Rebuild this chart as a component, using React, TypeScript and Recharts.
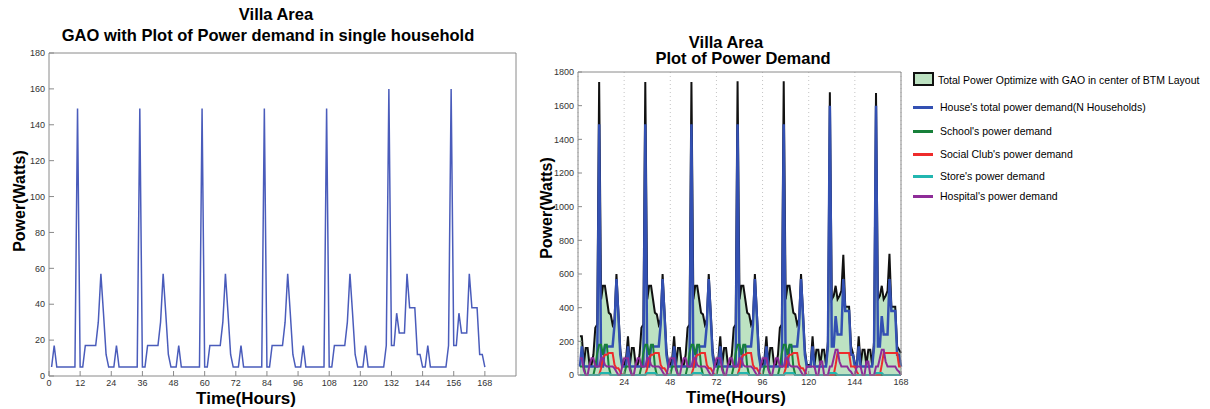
import React from 'react';
import { LineChart, Line, ComposedChart, Area, XAxis, YAxis, CartesianGrid } from 'recharts';

// hour index of each sample (1..168, one week)
const hours = Array.from({ length: 168 }, (_, i) => i + 1);

// single household demand (W), one row per day
const singleHouse = [
  [5, 17, 5, 5, 5, 5, 5, 5, 5, 5, 149, 5, 5, 17, 17, 17, 17, 17, 30, 57, 35, 12, 5, 5],
  [5, 17, 5, 5, 5, 5, 5, 5, 5, 5, 149, 5, 5, 17, 17, 17, 17, 17, 30, 57, 35, 12, 5, 5],
  [5, 17, 5, 5, 5, 5, 5, 5, 5, 5, 149, 5, 5, 17, 17, 17, 17, 17, 30, 57, 35, 12, 5, 5],
  [5, 17, 5, 5, 5, 5, 5, 5, 5, 5, 149, 5, 5, 17, 17, 17, 17, 17, 30, 57, 35, 12, 5, 5],
  [5, 17, 5, 5, 5, 5, 5, 5, 5, 5, 149, 5, 5, 17, 17, 17, 17, 17, 30, 57, 35, 12, 5, 5],
  [5, 17, 5, 5, 5, 5, 5, 5, 5, 17, 160, 17, 17, 35, 24, 24, 24, 57, 38, 38, 38, 12, 12, 5],
  [5, 17, 5, 5, 5, 5, 5, 5, 5, 17, 160, 17, 17, 35, 24, 24, 24, 57, 38, 38, 38, 12, 12, 5],
].flat();

// total optimized power (W)
const totalPower = [
  [230, 230, 60, 160, 160, 60, 60, 120, 280, 300, 1740, 450, 530, 530, 450, 370, 360, 300, 330, 600, 380, 150, 60, 60],
  [100, 230, 60, 160, 160, 60, 60, 120, 280, 300, 1740, 450, 530, 530, 450, 370, 360, 300, 330, 600, 380, 150, 60, 60],
  [100, 230, 60, 160, 160, 60, 60, 120, 280, 300, 1740, 450, 530, 530, 450, 370, 360, 300, 330, 600, 380, 150, 60, 60],
  [100, 230, 60, 160, 160, 60, 60, 120, 280, 300, 1745, 450, 530, 530, 450, 370, 360, 300, 330, 600, 380, 150, 60, 60],
  [100, 230, 60, 160, 160, 60, 60, 120, 280, 300, 1745, 450, 530, 530, 450, 370, 360, 300, 330, 600, 380, 150, 60, 60],
  [60, 230, 60, 150, 150, 60, 150, 150, 60, 200, 1680, 450, 470, 530, 450, 470, 500, 714, 405, 405, 405, 170, 130, 70],
  [60, 230, 60, 150, 150, 60, 150, 150, 60, 200, 1675, 450, 470, 530, 450, 470, 500, 720, 405, 405, 405, 170, 150, 130],
].flat();

// house's total power demand, N households (W)
const houseDemand = [
  [50, 170, 50, 50, 50, 50, 50, 50, 50, 50, 1490, 50, 50, 170, 170, 170, 170, 170, 300, 570, 350, 120, 50, 50],
  [50, 170, 50, 50, 50, 50, 50, 50, 50, 50, 1490, 50, 50, 170, 170, 170, 170, 170, 300, 570, 350, 120, 50, 50],
  [50, 170, 50, 50, 50, 50, 50, 50, 50, 50, 1490, 50, 50, 170, 170, 170, 170, 170, 300, 570, 350, 120, 50, 50],
  [50, 170, 50, 50, 50, 50, 50, 50, 50, 50, 1490, 50, 50, 170, 170, 170, 170, 170, 300, 570, 350, 120, 50, 50],
  [50, 170, 50, 50, 50, 50, 50, 50, 50, 50, 1490, 50, 50, 170, 170, 170, 170, 170, 300, 570, 350, 120, 50, 50],
  [50, 170, 50, 50, 50, 50, 50, 50, 50, 170, 1600, 170, 170, 350, 240, 240, 240, 570, 380, 380, 380, 120, 120, 50],
  [50, 170, 50, 50, 50, 50, 50, 50, 50, 170, 1600, 170, 170, 350, 240, 240, 240, 570, 380, 380, 380, 120, 120, 50],
].flat();

const schoolDemand = [
  [50, 50, 50, 0, 0, 0, 0, 0, 50, 130, 180, 180, 120, 180, 180, 50, 0, 0, 0, 0, 0, 0, 0, 0],
  [50, 50, 50, 0, 0, 0, 0, 0, 50, 130, 180, 180, 120, 180, 180, 50, 0, 0, 0, 0, 0, 0, 0, 0],
  [50, 50, 50, 0, 0, 0, 0, 0, 50, 130, 180, 180, 120, 180, 180, 50, 0, 0, 0, 0, 0, 0, 0, 0],
  [50, 50, 50, 0, 0, 0, 0, 0, 50, 130, 180, 180, 120, 180, 180, 50, 0, 0, 0, 0, 0, 0, 0, 0],
  [50, 50, 50, 0, 0, 0, 0, 0, 50, 130, 180, 180, 120, 180, 180, 50, 0, 0, 0, 0, 0, 0, 0, 0],
  [0, 0, 0, 0, 0, 0, 0, 0, 0, 0, 0, 0, 0, 0, 0, 0, 0, 0, 0, 0, 0, 0, 0, 0],
  [0, 0, 0, 0, 0, 0, 0, 0, 0, 0, 0, 0, 0, 0, 0, 0, 0, 0, 0, 0, 0, 0, 0, 0],
].flat();

const clubDemand = [
  [0, 0, 0, 0, 0, 0, 0, 0, 0, 0, 0, 40, 100, 120, 120, 130, 130, 130, 60, 40, 40, 20, 0, 0],
  [0, 0, 0, 0, 0, 0, 0, 0, 0, 0, 0, 40, 100, 120, 120, 130, 130, 130, 60, 40, 40, 20, 0, 0],
  [0, 0, 0, 0, 0, 0, 0, 0, 0, 0, 0, 40, 100, 120, 120, 130, 130, 130, 60, 40, 40, 20, 0, 0],
  [0, 0, 0, 0, 0, 0, 0, 0, 0, 0, 0, 40, 100, 120, 120, 130, 130, 130, 60, 40, 40, 20, 0, 0],
  [0, 0, 0, 0, 0, 0, 0, 0, 0, 0, 0, 40, 100, 120, 120, 130, 130, 130, 60, 40, 40, 20, 0, 0],
  [0, 0, 0, 0, 0, 0, 0, 0, 0, 0, 0, 0, 0, 60, 130, 130, 130, 130, 130, 130, 130, 50, 50, 50],
  [20, 0, 0, 0, 0, 0, 0, 0, 0, 0, 0, 0, 0, 60, 130, 130, 130, 130, 130, 130, 130, 130, 50, 50],
].flat();

const storeDemand = [
  [0, 0, 0, 0, 0, 0, 0, 0, 0, 0, 0, 12, 12, 12, 12, 12, 0, 0, 0, 0, 0, 0, 0, 0],
  [0, 0, 0, 0, 0, 0, 0, 0, 0, 0, 0, 12, 12, 12, 12, 12, 0, 0, 0, 0, 0, 0, 0, 0],
  [0, 0, 0, 0, 0, 0, 0, 0, 0, 0, 0, 12, 12, 12, 12, 12, 0, 0, 0, 0, 0, 0, 0, 0],
  [0, 0, 0, 0, 0, 0, 0, 0, 0, 0, 0, 12, 12, 12, 12, 12, 0, 0, 0, 0, 0, 0, 0, 0],
  [0, 0, 0, 0, 0, 0, 0, 0, 0, 0, 0, 12, 12, 12, 12, 12, 0, 0, 0, 0, 0, 0, 0, 0],
  [0, 0, 0, 0, 0, 0, 0, 0, 0, 0, 12, 12, 12, 12, 0, 0, 0, 0, 0, 0, 0, 0, 0, 0],
  [0, 0, 0, 0, 0, 0, 0, 0, 0, 0, 12, 12, 12, 12, 0, 0, 0, 0, 0, 0, 0, 0, 0, 0],
].flat();

const hospitalDemand = [
  [100, 100, 30, 0, 0, 60, 100, 100, 50, 50, 50, 100, 100, 60, 50, 50, 50, 50, 40, 20, 0, 0, 50, 100],
  [100, 100, 30, 0, 0, 60, 100, 100, 50, 50, 50, 100, 100, 60, 50, 50, 50, 50, 40, 20, 0, 0, 50, 100],
  [100, 100, 30, 0, 0, 60, 100, 100, 50, 50, 50, 100, 100, 60, 50, 50, 50, 50, 40, 20, 0, 0, 50, 100],
  [100, 100, 30, 0, 0, 60, 100, 100, 50, 50, 50, 100, 100, 60, 50, 50, 50, 50, 40, 20, 0, 0, 50, 100],
  [100, 100, 30, 0, 0, 60, 100, 100, 50, 50, 50, 100, 100, 60, 50, 50, 50, 50, 40, 20, 0, 0, 50, 50],
  [50, 50, 50, 0, 0, 80, 80, 0, 0, 0, 50, 50, 100, 150, 150, 80, 50, 50, 50, 50, 30, 20, 0, 0],
  [50, 50, 50, 0, 0, 80, 80, 0, 0, 0, 50, 50, 100, 150, 150, 80, 50, 50, 50, 50, 50, 30, 20, 0],
].flat();

const leftXTicks = [0, 12, 24, 36, 48, 60, 72, 84, 96, 108, 120, 132, 144, 156, 168];
const leftYTicks = [0, 20, 40, 60, 80, 100, 120, 140, 160, 180];
const rightXTicks = [24, 48, 72, 96, 120, 144, 168];
const rightYTicks = [0, 200, 400, 600, 800, 1000, 1200, 1400, 1600, 1800];

const leftData = hours.map((h, i) => ({ hour: h, power: singleHouse[i] }));
const rightData = hours.map((h, i) => ({
  hour: h,
  total: totalPower[i],
  house: houseDemand[i],
  school: schoolDemand[i],
  club: clubDemand[i],
  store: storeDemand[i],
  hospital: hospitalDemand[i],
}));

const FONT = '"Liberation Sans", Arial, Helvetica, sans-serif';
const AXIS = '#8a8a8a';
const tickStyle = { fontSize: 9, fill: '#333', fontFamily: FONT };

const COLORS = {
  fill: '#bde2c2',
  total: '#111111',
  house: '#3350b2',
  school: '#17803a',
  club: '#ee2b2b',
  store: '#22b6b0',
  hospital: '#8e2c98',
};

const legendRows = [
  { label: "House's total power demand(N Households)", color: COLORS.house, y: 107 },
  { label: "School's power demand", color: COLORS.school, y: 131 },
  { label: "Social Club's power demand", color: COLORS.club, y: 154 },
  { label: "Store's power demand", color: COLORS.store, y: 176 },
  { label: "Hospital's power demand", color: COLORS.hospital, y: 196 },
];

const Txt: React.FC<{ x: number; y: number; size: number; bold?: boolean; rotate?: boolean; children: React.ReactNode }> = ({ x, y, size, bold, rotate, children }) => (
  <div
    style={{
      position: 'absolute',
      left: x,
      top: y,
      transform: `translate(-50%, -50%)${rotate ? ' rotate(-90deg)' : ''}`,
      fontSize: size,
      fontWeight: bold ? 'bold' : 'normal',
      fontFamily: FONT,
      whiteSpace: 'nowrap',
      color: '#000',
      lineHeight: 1,
    }}
  >
    {children}
  </div>
);

export default function App() {
  return (
    <div style={{ position: 'absolute', left: 0, top: 0, width: 1210, height: 409, background: '#fff', overflow: 'hidden' }}>
      {/* left panel: single household */}
      <div style={{ position: 'absolute', left: 0, top: 0 }}>
        <LineChart width={530} height={409} data={leftData} margin={{ top: 52, right: 13, bottom: 13, left: 19 }}>
          <XAxis dataKey="hour" type="number" domain={[0, 180]} ticks={leftXTicks} interval={0} height={20}
            tickSize={-5} tickMargin={9} stroke={AXIS} tick={tickStyle} />
          <XAxis xAxisId="top" orientation="top" dataKey="hour" type="number" domain={[0, 180]} ticks={leftXTicks}
            interval={0} height={1} tickSize={-5} tick={false} stroke={AXIS} />
          <YAxis type="number" domain={[0, 180]} ticks={leftYTicks} interval={0} width={30}
            tickSize={-5} tickMargin={9} stroke={AXIS} tick={tickStyle} />
          <YAxis yAxisId="right" orientation="right" type="number" domain={[0, 180]} ticks={leftYTicks}
            interval={0} width={1} tickSize={-5} tick={false} stroke={AXIS} />
          <Line dataKey="power" type="linear" stroke="#4a5cbb" strokeWidth={1.5} dot={false} isAnimationActive={false} />
        </LineChart>
      </div>

      {/* right panel: villa area demand */}
      <div style={{ position: 'absolute', left: 530, top: 0 }}>
        <ComposedChart width={680} height={409} data={rightData} margin={{ top: 71, right: 308, bottom: 14, left: 8 }}>
          <CartesianGrid horizontal={false} stroke="#c4c4c4" strokeDasharray="1 3" />
          <XAxis dataKey="hour" type="number" domain={[0, 168]} ticks={rightXTicks} interval={0} height={20}
            tickSize={-4} tickMargin={8} stroke={AXIS} tick={tickStyle} />
          <XAxis xAxisId="top" orientation="top" dataKey="hour" type="number" domain={[0, 168]} ticks={rightXTicks}
            interval={0} height={1} tickSize={-4} tick={false} stroke={AXIS} />
          <YAxis type="number" domain={[0, 1800]} ticks={rightYTicks} interval={0} width={40}
            tickSize={-4} tickMargin={8} stroke={AXIS} tick={tickStyle} />
          <YAxis yAxisId="right" orientation="right" type="number" domain={[0, 1800]} ticks={rightYTicks}
            interval={0} width={1} tickSize={-4} tick={false} stroke={AXIS} />
          <Area dataKey="total" type="linear" stroke={COLORS.total} strokeWidth={2} fill={COLORS.fill} fillOpacity={1}
            isAnimationActive={false} />
          <Line dataKey="house" type="linear" stroke={COLORS.house} strokeWidth={2.5} dot={false} isAnimationActive={false} />
          <Line dataKey="school" type="linear" stroke={COLORS.school} strokeWidth={2} dot={false} isAnimationActive={false} />
          <Line dataKey="club" type="linear" stroke={COLORS.club} strokeWidth={2} dot={false} isAnimationActive={false} />
          <Line dataKey="store" type="linear" stroke={COLORS.store} strokeWidth={2} dot={false} isAnimationActive={false} />
          <Line dataKey="hospital" type="linear" stroke={COLORS.hospital} strokeWidth={2} dot={false} isAnimationActive={false} />
        </ComposedChart>
      </div>

      {/* titles and axis labels */}
      <Txt x={276} y={14} size={16.5} bold>Villa Area</Txt>
      <Txt x={268} y={35} size={16.5} bold>GAO with Plot of Power demand in single household</Txt>
      <Txt x={20} y={201} size={16} bold rotate>Power(Watts)</Txt>
      <Txt x={246} y={398} size={17} bold>Time(Hours)</Txt>

      <Txt x={726} y={42} size={16.5} bold>Villa Area</Txt>
      <Txt x={743} y={58} size={16.5} bold>Plot of Power Demand</Txt>
      <Txt x={547} y={208} size={16} bold rotate>Power(Watts)</Txt>
      <Txt x={736} y={397} size={17} bold>Time(Hours)</Txt>

      {/* legend */}
      <div style={{ position: 'absolute', left: 913, top: 72, width: 21, height: 14, background: COLORS.fill, border: '2px solid #111', boxSizing: 'border-box' }} />
      <div style={{ position: 'absolute', left: 938, top: 80, transform: 'translateY(-50%)', fontSize: 10.5, fontFamily: FONT, whiteSpace: 'nowrap', lineHeight: 1 }}>
        Total Power Optimize with GAO in center of BTM Layout
      </div>
      {legendRows.map((r) => (
        <React.Fragment key={r.label}>
          <div style={{ position: 'absolute', left: 913, top: r.y - 1, width: 20, height: 3, background: r.color }} />
          <div style={{ position: 'absolute', left: 940, top: r.y, transform: 'translateY(-50%)', fontSize: 10.5, fontFamily: FONT, whiteSpace: 'nowrap', lineHeight: 1 }}>
            {r.label}
          </div>
        </React.Fragment>
      ))}
    </div>
  );
}
